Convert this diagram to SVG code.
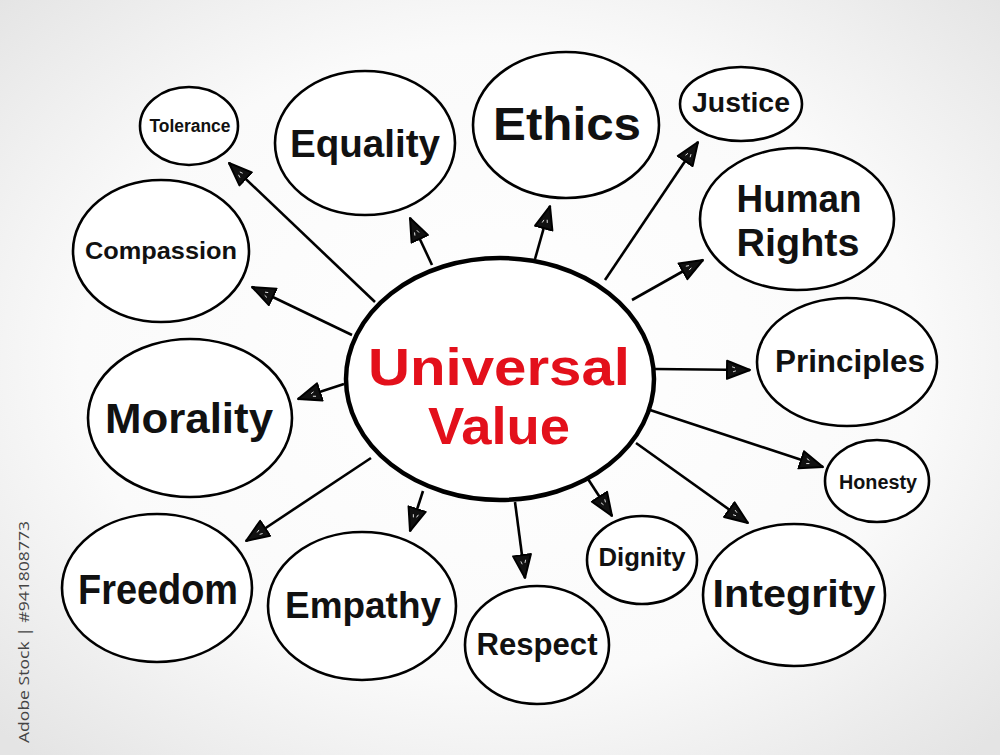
<svg xmlns="http://www.w3.org/2000/svg" width="1000" height="755" viewBox="0 0 1000 755">
<defs>
<radialGradient id="bg" cx="50%" cy="48%" r="70%">
<stop offset="0" stop-color="#ffffff"/>
<stop offset="0.6" stop-color="#fafafa"/>
<stop offset="1" stop-color="#e4e4e4"/>
</radialGradient>
<marker id="arr" markerUnits="userSpaceOnUse" markerWidth="26" markerHeight="22" viewBox="0 0 26 22" refX="24" refY="11" orient="auto">
<path d="M1,2 L24,11 L1,20 Z" fill="#111" stroke="#000" stroke-width="2" stroke-linejoin="round"/>
<path d="M6,8 L9,9 M7,13 L10,12" stroke="#fff" stroke-width="0.8"/>
</marker>
<style>
.n{fill:#fff;stroke:#000;stroke-width:2.6}
.c{fill:#fff;stroke:#000;stroke-width:4.5}
.t{font-family:"Liberation Sans","DejaVu Sans",sans-serif;font-weight:bold;fill:#111;text-anchor:middle}
.r{font-family:"Liberation Sans","DejaVu Sans",sans-serif;font-weight:bold;fill:#e3101b;text-anchor:middle}
.l{fill:none;stroke:#000;stroke-width:2.6;marker-end:url(#arr)}
.w{font-family:"Open Sans","Liberation Sans",sans-serif;fill:#444;font-size:15px}
</style>
</defs>
<rect width="1000" height="755" fill="url(#bg)"/>

<g id="connectors">
<line class="l" x1="375" y1="302" x2="229" y2="163"/>
<line class="l" x1="352" y1="335" x2="252" y2="287"/>
<line class="l" x1="344" y1="384" x2="298" y2="399"/>
<line class="l" x1="371" y1="458" x2="246" y2="541"/>
<line class="l" x1="423" y1="491" x2="410" y2="531"/>
<line class="l" x1="515" y1="502" x2="525" y2="578"/>
<line class="l" x1="588" y1="479" x2="612" y2="516"/>
<line class="l" x1="636" y1="443" x2="748" y2="523"/>
<line class="l" x1="650" y1="410" x2="823" y2="467"/>
<line class="l" x1="655" y1="369" x2="750" y2="370"/>
<line class="l" x1="632" y1="300" x2="703" y2="260"/>
<line class="l" x1="605" y1="280" x2="698" y2="142"/>
<line class="l" x1="535" y1="259" x2="550" y2="206"/>
<line class="l" x1="432" y1="265" x2="410" y2="218"/>
</g>

<g id="center">
<ellipse class="c" cx="500" cy="379" rx="154" ry="121"/>
<text class="r" x="499" y="385" font-size="52" textLength="262" lengthAdjust="spacingAndGlyphs">Universal</text>
<text class="r" x="499" y="444" font-size="52" textLength="142" lengthAdjust="spacingAndGlyphs">Value</text>
</g>

<g id="tolerance">
<ellipse class="n" cx="189" cy="126" rx="49" ry="39"/>
<text class="t" x="190" y="132" font-size="18" textLength="81" lengthAdjust="spacingAndGlyphs">Tolerance</text>
</g>
<g id="equality">
<ellipse class="n" cx="365" cy="143" rx="90" ry="72"/>
<text class="t" x="365" y="157" font-size="38" textLength="150" lengthAdjust="spacingAndGlyphs">Equality</text>
</g>
<g id="ethics">
<ellipse class="n" cx="566" cy="125" rx="93" ry="73"/>
<text class="t" x="567" y="140" font-size="46" textLength="148" lengthAdjust="spacingAndGlyphs">Ethics</text>
</g>
<g id="justice">
<ellipse class="n" cx="741" cy="104" rx="61" ry="37"/>
<text class="t" x="741" y="112" font-size="27" textLength="98" lengthAdjust="spacingAndGlyphs">Justice</text>
</g>
<g id="human-rights">
<ellipse class="n" cx="797" cy="219" rx="97" ry="71"/>
<text class="t" x="799" y="212" font-size="38" textLength="125" lengthAdjust="spacingAndGlyphs">Human</text>
<text class="t" x="798" y="256" font-size="38" textLength="123" lengthAdjust="spacingAndGlyphs">Rights</text>
</g>
<g id="compassion">
<ellipse class="n" cx="161" cy="251" rx="88" ry="71"/>
<text class="t" x="161" y="259" font-size="24" textLength="152" lengthAdjust="spacingAndGlyphs">Compassion</text>
</g>
<g id="morality">
<ellipse class="n" cx="190" cy="418" rx="102" ry="79"/>
<text class="t" x="189" y="433" font-size="42" textLength="168" lengthAdjust="spacingAndGlyphs">Morality</text>
</g>
<g id="principles">
<ellipse class="n" cx="847" cy="362" rx="90" ry="64"/>
<text class="t" x="850" y="372" font-size="31" textLength="150" lengthAdjust="spacingAndGlyphs">Principles</text>
</g>
<g id="honesty">
<ellipse class="n" cx="877" cy="481" rx="52" ry="41"/>
<text class="t" x="878" y="489" font-size="20" textLength="78" lengthAdjust="spacingAndGlyphs">Honesty</text>
</g>
<g id="freedom">
<ellipse class="n" cx="157" cy="588" rx="95" ry="74"/>
<text class="t" x="158" y="604" font-size="42" textLength="160" lengthAdjust="spacingAndGlyphs">Freedom</text>
</g>
<g id="empathy">
<ellipse class="n" cx="362" cy="606" rx="94" ry="74"/>
<text class="t" x="363" y="618" font-size="37" textLength="156" lengthAdjust="spacingAndGlyphs">Empathy</text>
</g>
<g id="respect">
<ellipse class="n" cx="537" cy="645" rx="72" ry="59"/>
<text class="t" x="537" y="655" font-size="31" textLength="121" lengthAdjust="spacingAndGlyphs">Respect</text>
</g>
<g id="dignity">
<ellipse class="n" cx="642" cy="560" rx="55" ry="44"/>
<text class="t" x="642" y="566" font-size="25" textLength="87" lengthAdjust="spacingAndGlyphs">Dignity</text>
</g>
<g id="integrity">
<ellipse class="n" cx="794" cy="595" rx="91" ry="71"/>
<text class="t" x="794" y="607" font-size="39" textLength="163" lengthAdjust="spacingAndGlyphs">Integrity</text>
</g>

<text class="w" transform="translate(29,743) rotate(-90)" textLength="222" lengthAdjust="spacingAndGlyphs">Adobe Stock | #941808773</text>
</svg>
